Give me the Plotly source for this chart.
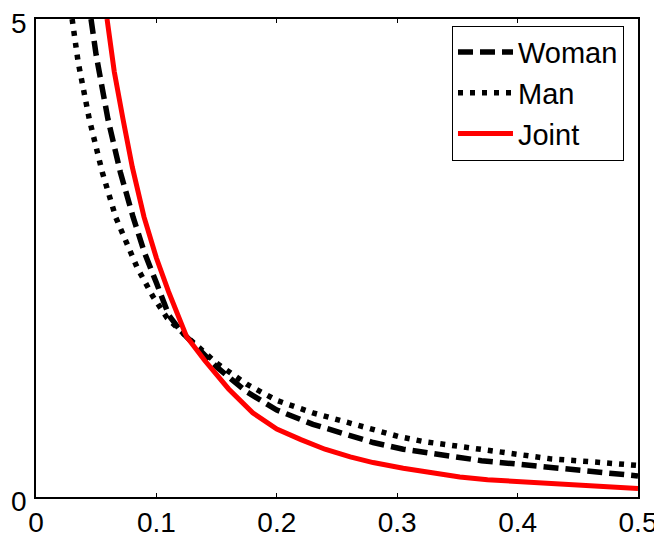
import plotly.graph_objects as go

# Woman (dashed)
woman_x = [0.0457, 0.05, 0.0598, 0.07, 0.0806, 0.09, 0.10, 0.1104, 0.12, 0.135, 0.15, 0.175,
           0.2, 0.23, 0.261, 0.28, 0.305, 0.33, 0.35, 0.37, 0.395, 0.42, 0.44, 0.465, 0.49, 0.5]
woman_y = [5.0, 4.62, 3.95, 3.40, 2.93, 2.56, 2.24, 1.90, 1.74, 1.55, 1.36, 1.10,
           0.91, 0.76, 0.64, 0.57, 0.50, 0.45, 0.42, 0.38, 0.35, 0.32, 0.30, 0.27, 0.23, 0.22]

# Man (dotted)
man_x = [0.030, 0.035, 0.0443, 0.055, 0.0664, 0.084, 0.097, 0.109, 0.125, 0.15, 0.175,
         0.2, 0.23, 0.261, 0.302, 0.322, 0.35, 0.372, 0.4, 0.427, 0.46, 0.493, 0.5]
man_y = [5.0, 4.55, 3.95, 3.40, 2.92, 2.40, 2.10, 1.87, 1.68, 1.40, 1.18,
         1.01, 0.88, 0.77, 0.63, 0.58, 0.53, 0.49, 0.44, 0.40, 0.37, 0.33, 0.33]

# Joint (solid red)
joint_x = [0.059, 0.065, 0.0723, 0.08, 0.0897, 0.10, 0.11, 0.1188, 0.125, 0.14, 0.15, 0.16,
           0.18, 0.2, 0.22, 0.24, 0.261, 0.28, 0.305, 0.33, 0.352, 0.375, 0.4, 0.43, 0.455, 0.48, 0.5]
joint_y = [5.0, 4.45, 3.95, 3.45, 2.93, 2.50, 2.15, 1.88, 1.68, 1.43, 1.28, 1.13,
           0.88, 0.71, 0.60, 0.50, 0.42, 0.36, 0.30, 0.25, 0.21, 0.18, 0.16, 0.135, 0.12, 0.10, 0.09]

x_ticks = [0, 0.1, 0.2, 0.3, 0.4, 0.5]
x_tick_labels = ["0", "0.1", "0.2", "0.3", "0.4", "0.5"]
y_ticks = [0, 5]
y_tick_labels = ["0", "5"]

font = "Liberation Sans, Arial, sans-serif"

fig = go.Figure()
fig.add_trace(go.Scatter(x=woman_x, y=woman_y, mode="lines", name="Woman",
                         line=dict(color="black", width=5.5, dash="15px,7px")))
fig.add_trace(go.Scatter(x=man_x, y=man_y, mode="lines", name="Man",
                         line=dict(color="black", width=5.5, dash="5px,7px")))
fig.add_trace(go.Scatter(x=joint_x, y=joint_y, mode="lines", name="Joint",
                         line=dict(color="red", width=5)))

# page body has an 8px margin, so the figure is slightly smaller and offset
fig.update_layout(
    width=654, height=531,
    margin=dict(l=28, r=24, t=11, b=42, autoexpand=False),
    paper_bgcolor="white", plot_bgcolor="white",
    font=dict(family=font, size=28, color="black"),
    showlegend=True,
    legend=dict(x=0.691, y=0.986, xanchor="left", yanchor="top",
                bgcolor="white", bordercolor="black", borderwidth=1,
                font=dict(size=29), itemwidth=55, tracegroupgap=0),
)
fig.update_xaxes(range=[0, 0.5], tickvals=x_ticks, ticktext=x_tick_labels,
                 showgrid=False, zeroline=False, showline=True, linecolor="black",
                 linewidth=1.5, mirror="allticks", ticks="inside", ticklen=4,
                 tickcolor="black", tickfont=dict(size=28), automargin=False,
                 ticklabeloverflow="allow")
fig.update_yaxes(range=[0, 5], tickvals=y_ticks, ticktext=y_tick_labels,
                 showgrid=False, zeroline=False, showline=True, linecolor="black",
                 linewidth=1.5, mirror="allticks", ticks="inside", ticklen=4,
                 tickcolor="black", tickfont=dict(size=28), automargin=False,
                 ticklabeloverflow="allow", ticklabelshift=4, ticklabelstandoff=2)

fig.write_html("out.html")
